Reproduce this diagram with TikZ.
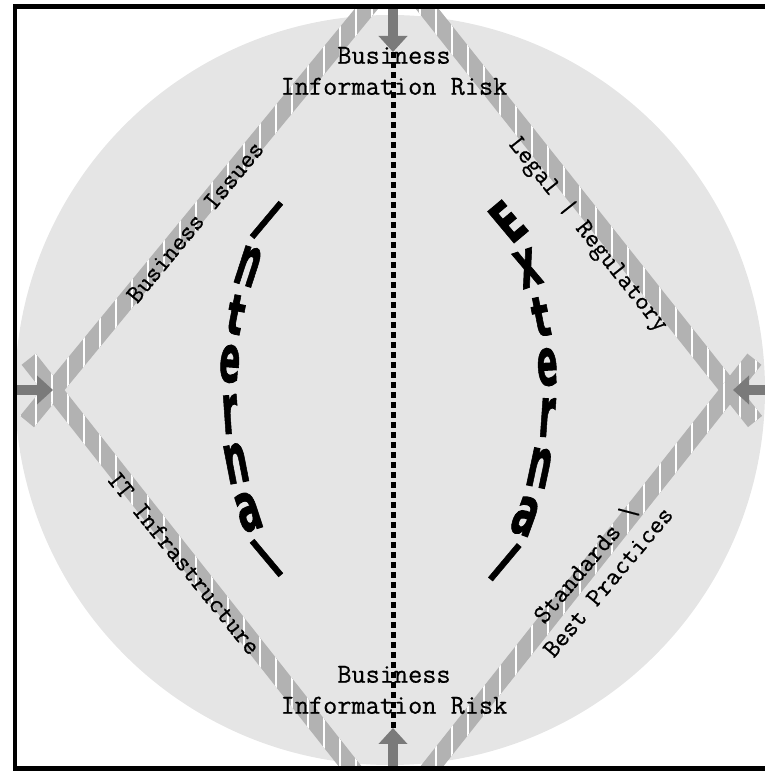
\documentclass[tikz,border=0pt]{standalone}
\usepackage{fontspec}
\usepackage{graphicx}
\usepackage{tikz}
\usetikzlibrary{calc,arrows.meta}
\setmonofont{Latin Modern Mono}[FakeBold=0.6]
\newfontfamily\artfont{DejaVu Sans}[FakeBold=1.5]
\definecolor{discgray}{gray}{0.9}
\definecolor{bandgray}{gray}{0.7}
\definecolor{arrowgray}{gray}{0.48}
\tikzset{x=1pt, y=1pt,
  risk/.style={font=\ttfamily\fontsize{27.5}{31}\selectfont, align=center, inner sep=0pt},
  bandlabel/.style={font=\ttfamily\fontsize{26}{29}\selectfont, align=center, inner sep=0pt},
  stripe/.style={white, line width=1.2pt},
  fatarrow/.style={arrowgray, line width=10pt, -{Triangle[width=28pt,length=16pt]}},
  dots/.style={line width=5pt, dash pattern=on 6pt off 4pt},
  wordart/.style={inner sep=0pt, font=\artfont\bfseries}}
\newcommand\stripedband[2]{%
  \fill[bandgray] ($(#1)!9pt!90:(#2)$) -- ($(#1)!9pt!-90:(#2)$) -- ($(#2)!9pt!90:(#1)$) -- ($(#2)!9pt!-90:(#1)$) -- cycle;
  \begin{scope}
    \clip ($(#1)!9pt!90:(#2)$) -- ($(#1)!9pt!-90:(#2)$) -- ($(#2)!9pt!90:(#1)$) -- ($(#2)!9pt!-90:(#1)$) -- cycle;
    \foreach \sx in {4,20,...,772} \draw[stripe] (\sx,-10) -- (\sx,780);
  \end{scope}}

\begin{document}
\begin{tikzpicture}
\useasboundingbox (0,0) rectangle (765,771);
\coordinate (cl) at (53,381);
\coordinate (cr) at (730,381);
\coordinate (ul) at (377,775);
\coordinate (ur) at (417,775);
\coordinate (ll) at (357,-4);
\coordinate (lr) at (425,-4);
\coordinate (clu) at ($(cl)!-0.08!(ul)$);
\coordinate (cll) at ($(cl)!-0.08!(ll)$);
\coordinate (cru) at ($(cr)!-0.08!(ur)$);
\coordinate (crl) at ($(cr)!-0.08!(lr)$);
\coordinate (ttail) at (393,775);
\coordinate (ttip) at (393,719);
\coordinate (btail) at (393,-4);
\coordinate (btip) at (393,43);
\coordinate (ltail) at (10,381);
\coordinate (ltip) at (53,381);
\coordinate (rtail) at (770,381);
\coordinate (rtip) at (733,381);
\coordinate (inarc) at (629,382);
\coordinate (exarc) at (179,382);

\begin{scope}
  \clip (17,4.5) rectangle (765,762);
  \fill[discgray] (390,381) circle (375);
  \stripedband{clu}{ul}
  \stripedband{cll}{ll}
  \stripedband{cru}{ur}
  \stripedband{crl}{lr}
  \draw[fatarrow] (ttail) -- (ttip);
  \draw[fatarrow] (btail) -- (btip);
  \draw[fatarrow] (ltail) -- (ltip);
  \draw[fatarrow] (rtail) -- (rtip);
\end{scope}

\node[risk] (toprisk) at (394,700) {Business\\Information Risk};
\node[risk] (botrisk) at (394,81) {Business\\Information Risk};
\draw[dots] (ttip) -- (btip);

\node[bandlabel, rotate=50.5] (issues) at (195,549) {Business Issues};
\node[bandlabel, rotate=-51.5] (legal) at (588,536) {Legal | Regulatory};
\node[bandlabel, rotate=-51] (infra) at (184,208) {IT Infrastructure};
\node[bandlabel, rotate=50] (standards) at (596,199) {Standards \textbackslash\\Best Practices};

\foreach \ang/\tilt/\lw/\lh/\ch [count=\i] in {155/-40/11/44/I, 162.1/-18/23/39/n, 169.3/-11/17/39/t,
    176.4/-4/21/37/e, 183.6/4/16/39/r, 190.7/11/24/39/n, 197.9/18/24/38/a, 205/40/11/44/l}
  \node[wordart, rotate=\tilt] (int\i) at ($(inarc)+(\ang:400)$) {\resizebox{\lw pt}{\lh pt}{\ch}};
\foreach \ang/\tilt/\lw/\lh/\ch [count=\i] in {27/40/25/41/E, 19.1/19/23/37/x, 11.3/11/17/39/t,
    3.4/3/21/37/e, -4.4/-4/16/39/r, -12.3/-12/24/39/n, -20.2/-20/24/38/a, -28/-40/11/44/l}
  \node[wordart, rotate=\tilt] (ext\i) at ($(exarc)+(\ang:369)$) {\resizebox{\lw pt}{\lh pt}{\ch}};

\draw[line width=4.5pt] (765,764.5) -- (15,764.5) -- (15,2.5) -- (765,2.5);
\end{tikzpicture}
\end{document}
